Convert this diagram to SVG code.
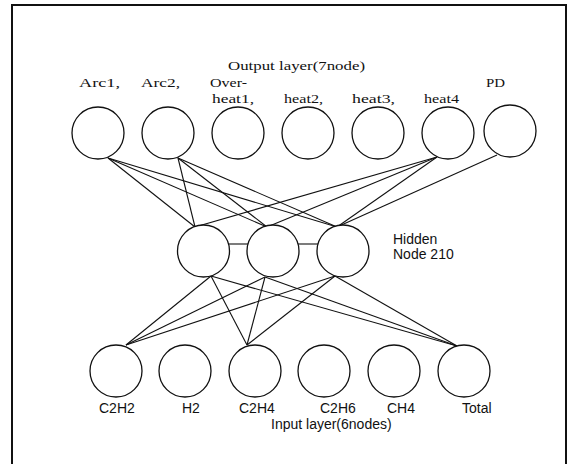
<svg xmlns="http://www.w3.org/2000/svg" width="569" height="464" viewBox="0 0 569 464">
  <style>
    .frame { fill: none; stroke: #111; stroke-width: 2; }
    .node { fill: #fff; stroke: #111; stroke-width: 1.3; }
    .link { stroke: #111; stroke-width: 1.1; fill: none; }
    .lbl-top { font-family: "Liberation Serif", "Times New Roman", serif; font-size: 12.5px; fill: #111; }
    .lbl { font-family: "Liberation Sans", Arial, sans-serif; font-size: 14px; fill: #111; }
  </style>
  <rect width="569" height="464" fill="#fff"/>
  <!-- outer frame, bottom edge runs off the page -->
  <path class="frame" d="M12,470 V5 H566 V470"/>

  <!-- connectors -->
  <g id="connectors" class="link">
    <!-- output layer to hidden layer -->
    <line x1="108" y1="158" x2="195" y2="227"/>
    <line x1="108" y1="158" x2="267" y2="227"/>
    <line x1="108" y1="158" x2="337" y2="227"/>
    <line x1="178" y1="158" x2="195" y2="227"/>
    <line x1="178" y1="158" x2="267" y2="227"/>
    <line x1="178" y1="158" x2="337" y2="227"/>
    <line x1="437" y1="157" x2="195" y2="227"/>
    <line x1="437" y1="157" x2="267" y2="227"/>
    <line x1="437" y1="157" x2="337" y2="227"/>
    <line x1="497" y1="155" x2="337" y2="227"/>
    <!-- links inside the hidden layer -->
    <line x1="228" y1="244" x2="248" y2="244"/>
    <line x1="298" y1="244" x2="318" y2="244"/>
    <!-- hidden layer to input layer -->
    <line x1="211" y1="276" x2="126" y2="345"/>
    <line x1="265" y1="277" x2="126" y2="345"/>
    <line x1="335" y1="276" x2="126" y2="345"/>
    <line x1="211" y1="276" x2="247" y2="345"/>
    <line x1="265" y1="277" x2="247" y2="345"/>
    <line x1="335" y1="276" x2="247" y2="345"/>
    <line x1="211" y1="276" x2="457" y2="346"/>
    <line x1="265" y1="277" x2="457" y2="346"/>
    <line x1="335" y1="276" x2="457" y2="346"/>
  </g>

  <!-- output layer -->
  <text class="lbl-top" x="228" y="70" textLength="137" lengthAdjust="spacingAndGlyphs">Output layer(7node)</text>
  <g id="out-arc1">
    <circle class="node" cx="98" cy="133" r="26"/>
    <text class="lbl-top" x="79" y="87" textLength="41" lengthAdjust="spacingAndGlyphs">Arc1,</text>
  </g>
  <g id="out-arc2">
    <circle class="node" cx="168" cy="133" r="26"/>
    <text class="lbl-top" x="141" y="87" textLength="39" lengthAdjust="spacingAndGlyphs">Arc2,</text>
  </g>
  <g id="out-heat1">
    <circle class="node" cx="238" cy="133" r="26"/>
    <text class="lbl-top" x="210" y="87" textLength="37" lengthAdjust="spacingAndGlyphs">Over-</text>
    <text class="lbl-top" x="212" y="103" textLength="42" lengthAdjust="spacingAndGlyphs">heat1,</text>
  </g>
  <g id="out-heat2">
    <circle class="node" cx="308" cy="133" r="26"/>
    <text class="lbl-top" x="284" y="103" textLength="39" lengthAdjust="spacingAndGlyphs">heat2,</text>
  </g>
  <g id="out-heat3">
    <circle class="node" cx="378" cy="133" r="26"/>
    <text class="lbl-top" x="352" y="103" textLength="43" lengthAdjust="spacingAndGlyphs">heat3,</text>
  </g>
  <g id="out-heat4">
    <circle class="node" cx="448" cy="133" r="26"/>
    <text class="lbl-top" x="424" y="103" textLength="35" lengthAdjust="spacingAndGlyphs">heat4</text>
  </g>
  <g id="out-pd">
    <circle class="node" cx="510" cy="131" r="26"/>
    <text class="lbl-top" x="486" y="87" textLength="19" lengthAdjust="spacingAndGlyphs">PD</text>
  </g>

  <!-- hidden layer -->
  <g id="hidden-1"><circle class="node" cx="203.5" cy="251" r="26"/></g>
  <g id="hidden-2"><circle class="node" cx="273" cy="251" r="26"/></g>
  <g id="hidden-3"><circle class="node" cx="343" cy="251" r="26"/></g>
  <g id="hidden-label">
    <text class="lbl" x="393" y="244">Hidden</text>
    <text class="lbl" x="393" y="259">Node 210</text>
  </g>

  <!-- input layer -->
  <g id="in-c2h2">
    <circle class="node" cx="116" cy="371" r="26"/>
    <text class="lbl" x="99" y="413">C2H2</text>
  </g>
  <g id="in-h2">
    <circle class="node" cx="185" cy="371" r="26"/>
    <text class="lbl" x="182" y="413">H2</text>
  </g>
  <g id="in-c2h4">
    <circle class="node" cx="255" cy="371" r="26"/>
    <text class="lbl" x="239" y="413">C2H4</text>
  </g>
  <g id="in-c2h6">
    <circle class="node" cx="324" cy="371" r="26"/>
    <text class="lbl" x="320" y="413">C2H6</text>
  </g>
  <g id="in-ch4">
    <circle class="node" cx="394" cy="371" r="26"/>
    <text class="lbl" x="387" y="413">CH4</text>
  </g>
  <g id="in-total">
    <circle class="node" cx="464" cy="371" r="26"/>
    <text class="lbl" x="462" y="413">Total</text>
  </g>
  <text class="lbl" x="271" y="429">Input layer(6nodes)</text>
</svg>
